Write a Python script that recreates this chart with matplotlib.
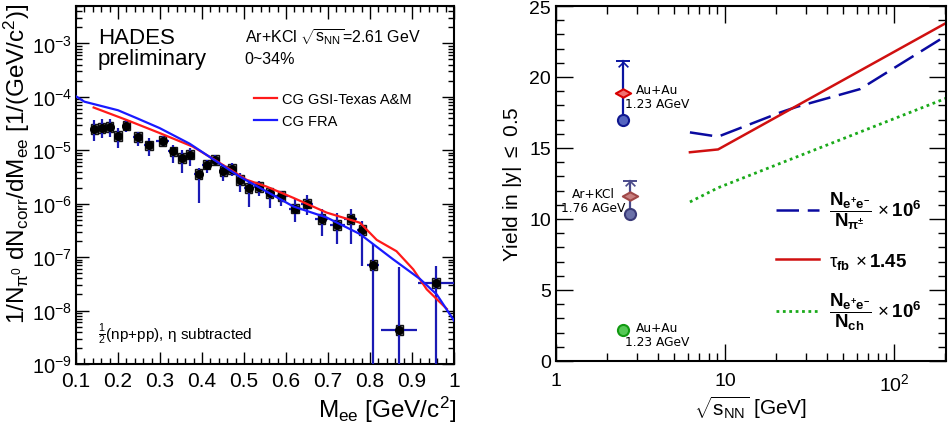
import numpy as np
import matplotlib
matplotlib.use("Agg")
import matplotlib.pyplot as plt
from matplotlib.ticker import MultipleLocator, LogLocator, FuncFormatter, NullFormatter
from matplotlib.patches import Rectangle
from matplotlib.path import Path

plt.rcParams['font.family'] = ['Liberation Sans', 'DejaVu Sans']
plt.rcParams['mathtext.fontset'] = 'custom'
plt.rcParams['mathtext.rm'] = 'Liberation Sans'
plt.rcParams['mathtext.it'] = 'Liberation Sans:italic'
plt.rcParams['mathtext.bf'] = 'Liberation Sans:bold'
plt.rcParams['mathtext.default'] = 'regular'

# ---------------- left panel data ----------------
mass = [0.144, 0.161, 0.180, 0.200, 0.220, 0.247, 0.274, 0.306, 0.332, 0.352,
        0.371, 0.392, 0.411, 0.431, 0.451, 0.471, 0.491, 0.511, 0.536, 0.561,
        0.589, 0.622, 0.650, 0.685, 0.722, 0.754, 0.782, 0.808, 0.870, 0.957]
yield_ee = [2.51e-5, 2.63e-5, 2.69e-5, 1.86e-5, 2.88e-5, 1.78e-5, 1.23e-5, 1.48e-5, 9.5e-6, 7.2e-6,
            8.3e-6, 3.6e-6, 5.4e-6, 6.6e-6, 4.1e-6, 4.5e-6, 2.8e-6, 1.95e-6, 2.04e-6, 1.58e-6,
            1.38e-6, 8.1e-7, 1.0e-6, 5.1e-7, 4.0e-7, 5.1e-7, 3.2e-7, 7.1e-8, 4.3e-9, 3.3e-8]
# statistical errors in decades (up / down)
err_up_dec = [0.17, 0.17, 0.15, 0.14, 0.11, 0.10, 0.14, 0.09, 0.125, 0.155,
              0.125, 0.11, 0.09, 0.09, 0.125, 0.11, 0.125, 0.16, 0.11, 0.12,
              0.09, 0.17, 0.17, 0.19, 0.23, 0.20, 0.17, 0.39, 1.19, 0.32]
err_dn_dec = [0.23, 0.20, 0.18, 0.23, 0.11, 0.18, 0.19, 0.10, 0.22, 0.28,
              0.22, 0.54, 0.15, 0.09, 0.19, 0.14, 0.22, 0.36, 0.17, 0.28,
              0.19, 0.26, 0.22, 0.32, 0.36, 0.46, 0.68, 3.0, 3.0, 3.0]
mass_err = [0.008, 0.008, 0.01, 0.01, 0.01, 0.012, 0.012, 0.015, 0.012, 0.01,
            0.01, 0.01, 0.01, 0.01, 0.01, 0.01, 0.01, 0.012, 0.012, 0.012,
            0.015, 0.016, 0.014, 0.016, 0.018, 0.016, 0.012, 0.014, 0.043, 0.043]

gsi_m = [0.142, 0.220, 0.299, 0.378, 0.442, 0.506, 0.553, 0.617, 0.697, 0.776,
         0.816, 0.863, 0.903, 0.935, 0.983]
gsi_y = [6.3e-5, 3.7e-5, 2.1e-5, 1.17e-5, 5.8e-6, 2.8e-6, 2.1e-6, 1.29e-6, 6.8e-7, 4.4e-7,
         2.1e-7, 1.29e-7, 5.9e-8, 2.5e-8, 1.07e-8]
fra_m = [0.100, 0.120, 0.200, 0.244, 0.299, 0.371, 0.434, 0.490, 0.537, 0.617,
         0.697, 0.776, 0.808, 0.855, 0.919, 0.959, 1.000]
fra_y = [1.02e-4, 8.1e-5, 5.6e-5, 4.0e-5, 2.6e-5, 1.32e-5, 6.2e-6, 3.2e-6, 2.0e-6, 8.9e-7,
         5.5e-7, 2.7e-7, 1.74e-7, 9.1e-8, 3.9e-8, 2.0e-8, 6.5e-9]

# ---------------- right panel data ----------------
sqrt_s = [6.2, 9.1, 21.2, 26.6, 63.0, 203.0]
ratio_pi = [16.1, 15.8, 17.5, 17.9, 19.15, 22.9]
tau_x = [6.2, 9.1, 203.0]
tau_fb = [14.7, 14.9, 23.8]
ch_x = [6.2, 9.1, 203.0]
ratio_ch = [11.2, 12.2, 18.5]

auau_x, auau_pi, auau_tau, auau_top, auau_ch = 2.48, 17.0, 18.85, 21.1, 2.2
arkcl_x, arkcl_pi, arkcl_tau, arkcl_top = 2.74, 10.33, 11.6, 12.7

fig = plt.figure(figsize=(9.52, 4.31), dpi=100)

# =============== left panel ===============
ax = fig.add_axes([76/952, 1-365/431, 378/952, 358/431])
ax.set_yscale('log')
ax.set_xlim(0.1, 1.0)
ax.set_ylim(1e-9, 5e-3)

mass_a = np.array(mass)
y_a = np.array(yield_ee)
lo = y_a - y_a / 10**np.array(err_dn_dec)
hi = y_a * 10**np.array(err_up_dec) - y_a
for m, y in zip(mass, yield_ee):
    ax.add_patch(Rectangle((m - 0.009, y / 10**0.09), 0.018, y * (10**0.09 - 10**-0.09),
                           facecolor='#8a8a8a', edgecolor='black', lw=1.0, alpha=0.9, zorder=2))
ax.errorbar(mass_a, y_a, yerr=[lo, hi], xerr=mass_err, fmt='none', ecolor='#1a1ab4',
            elinewidth=1.6, capsize=0, zorder=3)
ax.plot(mass, yield_ee, 'o', color='black', ms=5.5, zorder=4)
ax.plot(gsi_m, gsi_y, color='#ff1a1a', lw=1.6, zorder=5, label='CG GSI-Texas A&M')
ax.plot(fra_m, fra_y, color='#1a1aff', lw=1.6, zorder=5, label='CG FRA')

ax.xaxis.set_major_locator(MultipleLocator(0.1))
ax.xaxis.set_minor_locator(MultipleLocator(0.02))
ax.xaxis.set_major_formatter(FuncFormatter(lambda v, p: '%g' % round(v, 2)))
ax.yaxis.set_major_locator(LogLocator(base=10, numticks=20))
ax.yaxis.set_minor_locator(LogLocator(base=10, subs=np.arange(2, 10), numticks=20))
ax.yaxis.set_minor_formatter(NullFormatter())
ax.tick_params(which='both', direction='in', top=True, right=True, width=1)
ax.tick_params(axis='x', labelsize=15, pad=5)
ax.tick_params(axis='y', labelsize=14.5, pad=3)
ax.tick_params(which='major', length=9)
ax.tick_params(which='minor', length=4.5)
for s in ax.spines.values():
    s.set_linewidth(1.5)

ax.text(0.058, 0.94, 'HADES\npreliminary', transform=ax.transAxes, fontsize=16,
        va='top', ha='left', linespacing=1.0)
ax.text(0.446, 0.945, r'Ar+KCl $\sqrt{s_{NN}}$=2.61 GeV' + '\n0~34%', transform=ax.transAxes,
        fontsize=11.5, va='top', ha='left', linespacing=1.45)
ax.text(0.058, 0.085, r'$\frac{1}{2}$(np+pp), $\eta$ subtracted', transform=ax.transAxes,
        fontsize=11, va='center', ha='left')
ax.legend(loc='upper left', bbox_to_anchor=(0.455, 0.775), frameon=False, fontsize=10.5,
          handlelength=1.6, handletextpad=0.3, labelspacing=0.55, borderaxespad=0)

fig.text(17/952, 1-4/431, r'1/N$_{\pi^{0}}$ dN$_{corr}$/dM$_{ee}$ [1/(GeV/c$^{2}$)]',
         rotation=90, ha='center', va='top', fontsize=17.5)
fig.text(456/952, 1-410/431, r'M$_{ee}$ [GeV/c$^{2}$]', ha='right', va='center', fontsize=17.5)

# =============== right panel ===============
bx = fig.add_axes([556/952, 1-362/431, 390/952, 355/431])
bx.set_xscale('log')
bx.set_xlim(1, 203)
bx.set_ylim(0, 25)

l1, = bx.plot(sqrt_s, ratio_pi, color='#0a0aa0', lw=1.8, dashes=(9, 3.5))
l2, = bx.plot(tau_x, tau_fb, color='#d01010', lw=1.8)
l3, = bx.plot(ch_x, ratio_ch, color='#1aaa1a', lw=2.0, ls=(0, (1, 1.3)))

arrow_head = Path([(-1, -1), (0, 0), (1, -1)], [Path.MOVETO, Path.LINETO, Path.LINETO])
flat_diamond = Path([(-1, 0), (0, 0.55), (1, 0), (0, -0.55), (-1, 0)],
                    [Path.MOVETO, Path.LINETO, Path.LINETO, Path.LINETO, Path.CLOSEPOLY])

# Au+Au
bx.plot([auau_x, auau_x], [auau_pi, auau_top], color='#0a14a0', lw=1.6, zorder=3)
bx.plot([auau_x], [auau_top], marker='_', ms=10, mew=1.4, color='#0a14a0', zorder=3)
bx.plot([auau_x], [auau_top - 0.05], marker=arrow_head, ms=7, mew=1.2, color='#0a14a0',
        fillstyle='none', zorder=3)
bx.plot([auau_x], [auau_tau], marker=flat_diamond, ms=11, mfc='#f07070', mec='#d80000',
        mew=1.5, ls='none', zorder=4)
bx.plot([auau_x], [auau_pi], 'o', ms=8, mfc='#5565c0', mec='#101890', mew=1.5, zorder=4)
# Ar+KCl
bx.plot([arkcl_x, arkcl_x], [arkcl_pi, arkcl_top], color='#4a4a8a', lw=1.6, zorder=3)
bx.plot([arkcl_x], [arkcl_top], marker='_', ms=10, mew=1.4, color='#4a4a8a', zorder=3)
bx.plot([arkcl_x], [arkcl_top - 0.05], marker=arrow_head, ms=7, mew=1.2, color='#4a4a8a',
        fillstyle='none', zorder=3)
bx.plot([arkcl_x], [arkcl_tau], marker=flat_diamond, ms=11, mfc='#c88080', mec='#a04848',
        mew=1.5, ls='none', zorder=4)
bx.plot([arkcl_x], [arkcl_pi], 'o', ms=8, mfc='#6a70a8', mec='#3a3a78', mew=1.5, zorder=4)
# green Au+Au
bx.plot([auau_x], [auau_ch], 'o', ms=8, mfc='#55c855', mec='#119911', mew=1.5, zorder=4)

bx.text(3.96, 18.6, 'Au+Au\n1.23 AGeV', fontsize=8.8, family='DejaVu Sans', ha='center',
        va='center', linespacing=1.1)
bx.text(1.66, 11.3, 'Ar+KCl\n1.76 AGeV', fontsize=8.8, family='DejaVu Sans', ha='center',
        va='center', linespacing=1.1)
bx.text(3.96, 1.9, 'Au+Au\n1.23 AGeV', fontsize=8.8, family='DejaVu Sans', ha='center',
        va='center', linespacing=1.1)

lab1 = r'$\mathbf{\dfrac{N_{e^{+}e^{-}}}{N_{\pi^{\pm}}}}\,\times\mathbf{10^{6}}$'
lab2 = r'$\tau_{\mathbf{fb}}\,\times\mathbf{1.45}$'
lab3 = r'$\mathbf{\dfrac{N_{e^{+}e^{-}}}{N_{ch}}}\,\times\mathbf{10^{6}}$'
bx.legend([l1, l2, l3], [lab1, lab2, lab3], loc='lower left', bbox_to_anchor=(0.545, 0.06),
          frameon=False, fontsize=13.5, handlelength=2.3, handletextpad=0.5, labelspacing=1.05,
          borderaxespad=0)

bx.yaxis.set_major_locator(MultipleLocator(5))
bx.yaxis.set_minor_locator(MultipleLocator(1))
bx.xaxis.set_major_locator(LogLocator(base=10, numticks=10))
bx.xaxis.set_minor_locator(LogLocator(base=10, subs=np.arange(2, 10), numticks=10))
bx.xaxis.set_minor_formatter(NullFormatter())
bx.xaxis.set_major_formatter(FuncFormatter(
    lambda v, p: {1: '1', 10: '10'}.get(int(round(v)), r'$\mathregular{10^{%d}}$' % round(np.log10(v)))))
bx.tick_params(which='both', direction='in', top=True, right=True, labelsize=14, width=1)
bx.tick_params(which='major', length=12)
bx.tick_params(which='minor', length=6)
bx.tick_params(axis='x', pad=8)
for s in bx.spines.values():
    s.set_linewidth(1.5)

fig.text(512/952, 1-184/431, r'Yield in |y| $\leq$ 0.5', rotation=90, ha='center', va='center',
         fontsize=15)
fig.text(751/952, 1-408/431, r'$\sqrt{s_{NN}}$ [GeV]', ha='center', va='center', fontsize=15)

fig.savefig('out.png', dpi=100)
